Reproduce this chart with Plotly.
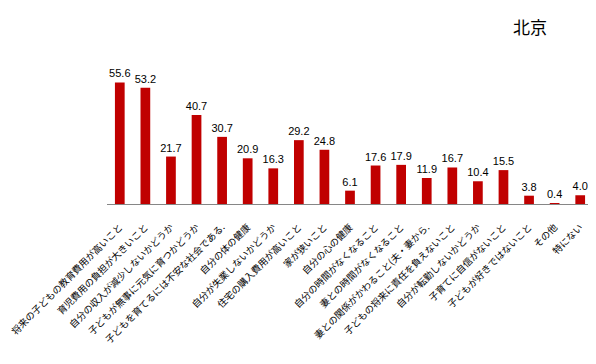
import plotly.graph_objects as go

categories = [
    "将来の子どもの教育費用が高いこと",
    "育児費用の負担が大きいこと",
    "自分の収入が減少しないかどうか",
    "子どもが無事に元気に育つかどうか",
    "子どもを育てるには不安な社会である.",
    "自分の体の健康",
    "自分が失業しないかどうか",
    "住宅の購入費用が高いこと",
    "家が狭いこと",
    "自分の心の健康",
    "自分の時間がなくなること",
    "妻との時間がなくなること",
    "妻との関係がかわること(夫・妻から.",
    "子どもの将来に責任を負えないこと",
    "自分が転勤しないかどうか",
    "子育てに自信がないこと",
    "子どもが好きではないこと",
    "その他",
    "特にない",
]
values = [55.6, 53.2, 21.7, 40.7, 30.7, 20.9, 16.3, 29.2, 24.8, 6.1,
          17.6, 17.9, 11.9, 16.7, 10.4, 15.5, 3.8, 0.4, 4.0]
value_labels = [f"{v:.1f}" for v in values]
title_text = "北京"

fig = go.Figure(go.Bar(
    x=categories,
    y=values,
    text=value_labels,
    textposition="outside",
    constraintext="none",
    textfont=dict(size=11, color="#000000", family="Liberation Sans, Arial"),
    marker=dict(color="#C00000", line=dict(width=0)),
    cliponaxis=False,
))

fig.update_layout(
    width=588, height=356,
    margin=dict(l=99, r=3, t=32, b=160, autoexpand=False),
    paper_bgcolor="white", plot_bgcolor="white",
    bargap=0.62,
    showlegend=False,
    uniformtext=dict(mode=False),
    font=dict(family="Noto Sans CJK JP", color="#000000"),
    xaxis=dict(
        tickangle=-45,
        automargin=False,
        ticklabelstandoff=13,
        tickfont=dict(size=9.5, family="Noto Sans CJK JP", color="#000000"),
        showline=True, linecolor="#868686", linewidth=1,
        ticks="", showgrid=False,
    ),
    yaxis=dict(
        range=[0, 75], visible=False, showgrid=False, zeroline=False,
        automargin=False,
    ),
    annotations=[dict(
        text=title_text, xref="paper", yref="paper",
        x=(530 - 107) / 486, y=1 + (40 - 27) / 164,
        xanchor="center", yanchor="middle",
        showarrow=False, font=dict(size=17, family="Noto Sans CJK JP", color="#000000"),
    )],
)

fig.write_html("out.html")
